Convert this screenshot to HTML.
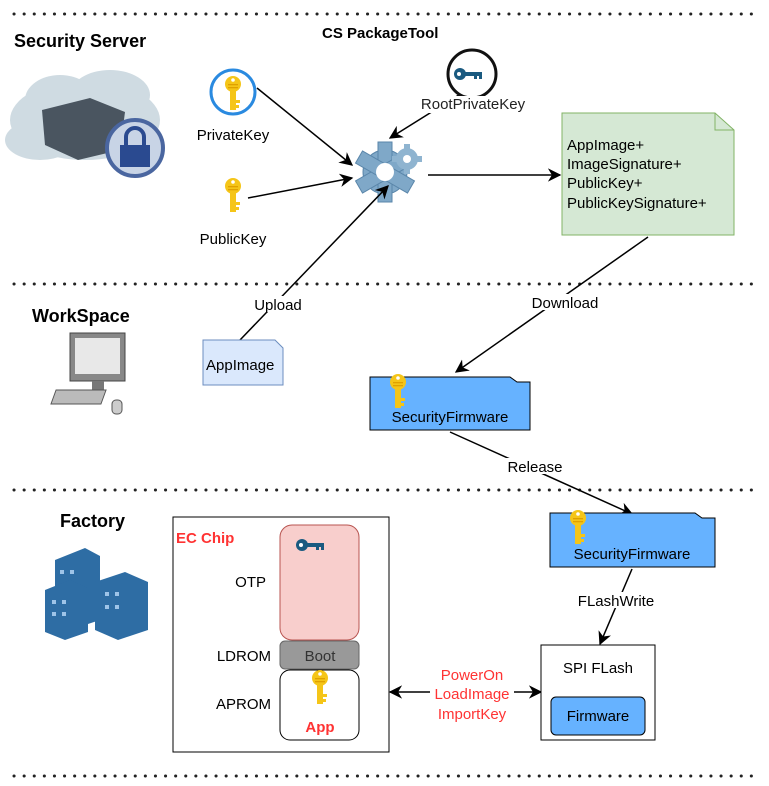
<!DOCTYPE html>
<html><head><meta charset="utf-8"><style>body{margin:0;background:#fff}svg{display:block;font-family:"Liberation Sans",sans-serif}</style></head><body>
<svg width="769" height="786" viewBox="0 0 769 786">
<defs>
<marker id="a" viewBox="0 0 10 10" refX="9" refY="5" markerWidth="9" markerHeight="9" orient="auto-start-reverse"><path d="M0,0 L10,5 L0,10 L3,5 z" fill="#000"/></marker>
<g id="key"><circle cx="0" cy="-8" r="8" fill="#f5c518"/><rect x="-3" y="-2" width="6" height="20" fill="#f5c518"/><rect x="3" y="8" width="4" height="3" fill="#f5c518"/><rect x="3" y="13" width="3" height="3" fill="#f5c518"/><circle cx="0" cy="-12" r="1.8" fill="#fff"/><rect x="-5" y="-8" width="10" height="1.3" fill="#e0a000"/><rect x="-5" y="-5" width="10" height="1.3" fill="#e0a000"/></g>
<g id="dkey"><circle cx="0" cy="0" r="6" fill="#1a5a80"/><circle cx="-1" cy="0" r="2" fill="#fff"/><rect x="4" y="-2" width="18" height="4" fill="#1a5a80"/><rect x="14" y="2" width="3" height="3" fill="#1a5a80"/><rect x="19" y="2" width="3" height="3" fill="#1a5a80"/></g>
</defs>
<g stroke="#222" stroke-width="3" stroke-dasharray="0.1 10" stroke-linecap="round">
<line x1="14" y1="14" x2="752" y2="14"/><line x1="14" y1="284" x2="752" y2="284"/><line x1="14" y1="490" x2="752" y2="490"/><line x1="14" y1="776" x2="752" y2="776"/></g>
<text x="14" y="47" font-size="18" font-weight="bold">Security Server</text>
<text x="322" y="38" font-size="15" font-weight="bold">CS PackageTool</text>
<text x="32" y="322" font-size="18" font-weight="bold">WorkSpace</text>
<text x="60" y="527" font-size="18" font-weight="bold">Factory</text>
<g fill="#cfdbe2"><ellipse cx="85" cy="120" rx="75" ry="40"/><ellipse cx="60" cy="100" rx="35" ry="25"/><ellipse cx="110" cy="95" rx="40" ry="25"/><ellipse cx="40" cy="140" rx="35" ry="20"/></g>
<path d="M42,110 L90,98 L125,112 L120,150 L78,160 L45,145z" fill="#4a5560"/>
<circle cx="135" cy="148" r="28" fill="#c8d4e6" stroke="#4a66a0" stroke-width="4"/>
<rect x="120" y="145" width="30" height="22" fill="#2a4a90"/><path d="M126,145 v-8 a9,9 0 0 1 18,0 v8" fill="none" stroke="#2a4a90" stroke-width="4"/>
<circle cx="233" cy="92" r="22" fill="#fff" stroke="#2a8ae0" stroke-width="3"/>
<use href="#key" x="233" y="92"/>
<text x="233" y="140" font-size="15" text-anchor="middle">PrivateKey</text>
<use href="#key" x="233" y="194"/>
<text x="233" y="244" font-size="15" text-anchor="middle">PublicKey</text>
<g transform="translate(385,172)"><g fill="#7fa8c8" stroke="#5a86aa"><circle r="22"/>
<g><rect x="-7" y="-30" width="14" height="60"/><rect x="-7" y="-30" width="14" height="60" transform="rotate(60)"/><rect x="-7" y="-30" width="14" height="60" transform="rotate(120)"/></g></g><circle r="9" fill="#fff"/>
<g transform="translate(22,-13)" fill="#8fb4d0"><circle r="11"/><rect x="-3" y="-15" width="6" height="30"/><rect x="-3" y="-15" width="6" height="30" transform="rotate(90)"/><circle r="4" fill="#fff"/></g></g>
<g stroke="#000" stroke-width="1.5" fill="none" marker-end="url(#a)">
<line x1="257" y1="88" x2="352" y2="165"/>
<line x1="248" y1="198" x2="352" y2="178"/>
<line x1="462" y1="93" x2="390" y2="138"/>
<line x1="428" y1="175" x2="560" y2="175"/>
<line x1="240" y1="340" x2="388" y2="186"/>
<line x1="648" y1="237" x2="456" y2="372"/>
<line x1="450" y1="432" x2="632" y2="514"/>
<line x1="632" y1="569" x2="600" y2="644"/>
<line x1="470" y1="692" x2="541" y2="692"/>
<line x1="470" y1="692" x2="390" y2="692"/>
</g>
<circle cx="472" cy="74" r="24" fill="#fff" stroke="#111" stroke-width="3"/>
<use href="#dkey" x="460" y="74"/>
<rect x="418" y="96" width="110" height="17" fill="#fff"/>
<text x="473" y="109" font-size="15" text-anchor="middle" fill="#222">RootPrivateKey</text>
<g font-size="15" text-anchor="middle"><rect x="250" y="296" width="56" height="16" fill="#fff"/><text x="278" y="310">Upload</text>
<rect x="525" y="294" width="80" height="16" fill="#fff"/><text x="565" y="308">Download</text>
<rect x="503" y="458" width="64" height="16" fill="#fff"/><text x="535" y="472">Release</text>
<rect x="572" y="592" width="88" height="16" fill="#fff"/><text x="616" y="606">FLashWrite</text></g>
<path d="M562,113 H715 L734,130 V235 H562z" fill="#d5e8d4" stroke="#82b366"/><path d="M715,113 v17 h19" fill="none" stroke="#82b366"/>
<g font-size="15"><text x="567" y="150">AppImage+</text><text x="567" y="169">ImageSignature+</text><text x="567" y="188">PublicKey+</text><text x="567" y="208">PublicKeySignature+</text></g>
<path d="M203,340 H275 L283,348 V385 H203z" fill="#dae8fc" stroke="#6c8ebf"/>
<text x="206" y="370" font-size="15">AppImage</text>
<rect x="70" y="333" width="55" height="48" fill="#888" stroke="#444"/><rect x="75" y="338" width="45" height="36" fill="#e8e8e8"/>
<rect x="92" y="381" width="12" height="10" fill="#777"/><rect x="58" y="390" width="50" height="14" fill="#bbb" stroke="#555" transform="skewX(-20) translate(140,0)"/>
<rect x="112" y="400" width="10" height="14" rx="4" fill="#ccc" stroke="#555"/>
<path d="M370,377 H510 L517,382 H530 V430 H370z" fill="#66b2ff" stroke="#000"/>
<use href="#key" x="398" y="390"/>
<text x="450" y="422" font-size="15" text-anchor="middle">SecurityFirmware</text>
<path d="M550,513 H695 L702,518 H715 V567 H550z" fill="#66b2ff" stroke="#000"/>
<use href="#key" x="578" y="526"/>
<text x="632" y="559" font-size="15" text-anchor="middle">SecurityFirmware</text>
<g fill="#2e6da4"><path d="M55,560 L85,548 L100,556 V620 L70,630 L55,622z"/><path d="M95,582 L125,572 L148,582 V630 L118,640 L95,630z"/><path d="M45,590 L70,580 L88,588 V632 L65,640 L45,632z"/></g>
<g fill="#9ec4e8"><rect x="60" y="570" width="4" height="4"/><rect x="70" y="570" width="4" height="4"/><rect x="105" y="592" width="4" height="4"/><rect x="115" y="592" width="4" height="4"/><rect x="52" y="600" width="4" height="4"/><rect x="62" y="600" width="4" height="4"/><rect x="52" y="612" width="4" height="4"/><rect x="62" y="612" width="4" height="4"/><rect x="105" y="605" width="4" height="4"/><rect x="115" y="605" width="4" height="4"/></g>
<rect x="173" y="517" width="216" height="235" fill="#fff" stroke="#000"/>
<text x="176" y="543" font-size="15" font-weight="bold" fill="#f33">EC Chip</text>
<rect x="280" y="525" width="79" height="115" rx="12" fill="#f8cecc" stroke="#b85450"/>
<use href="#dkey" x="302" y="545"/>
<rect x="280" y="641" width="79" height="28" rx="5" fill="#999" stroke="#666"/>
<text x="320" y="661" font-size="15" text-anchor="middle" fill="#333">Boot</text>
<rect x="280" y="670" width="79" height="70" rx="10" fill="#fff" stroke="#000"/>
<use href="#key" x="320" y="686"/>
<text x="320" y="732" font-size="15" font-weight="bold" text-anchor="middle" fill="#f33">App</text>
<g font-size="15" text-anchor="end"><text x="266" y="587">OTP</text><text x="271" y="661">LDROM</text><text x="271" y="709">APROM</text></g>
<rect x="430" y="666" width="84" height="56" fill="#fff"/>
<g font-size="15" text-anchor="middle" fill="#f33"><text x="472" y="680">PowerOn</text><text x="472" y="699">LoadImage</text><text x="472" y="719">ImportKey</text></g>
<rect x="541" y="645" width="114" height="95" fill="#fff" stroke="#000"/>
<text x="598" y="673" font-size="15" text-anchor="middle">SPI FLash</text>
<rect x="551" y="697" width="94" height="38" rx="5" fill="#66b2ff" stroke="#000"/>
<text x="598" y="721" font-size="15" text-anchor="middle">Firmware</text>
</svg>
</body></html>
